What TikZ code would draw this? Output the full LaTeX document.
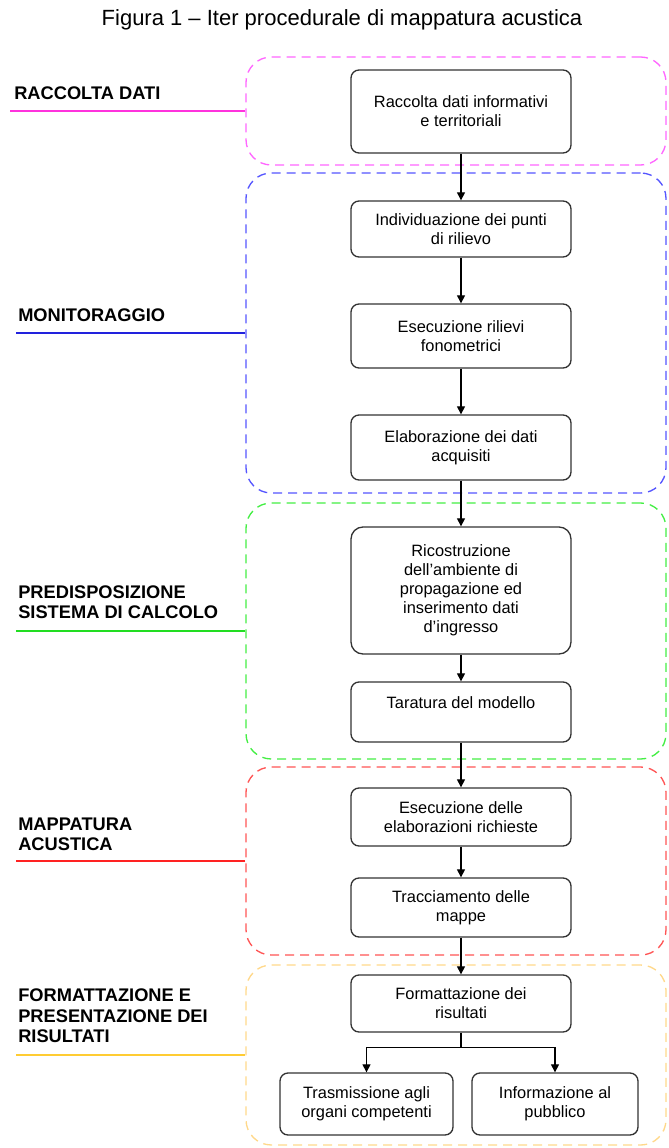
\documentclass[tikz,border=0pt]{standalone}
\usepackage{fontspec}
\setmainfont{Liberation Sans}
\usetikzlibrary{arrows.meta,calc}

\definecolor{pinkdash}{HTML}{FF66FF}
\definecolor{pinkline}{HTML}{FF33DD}
\definecolor{bluedash}{HTML}{5555FF}
\definecolor{blueline}{HTML}{2222DD}
\definecolor{greendash}{HTML}{44EE44}
\definecolor{greenline}{HTML}{22DD22}
\definecolor{reddash}{HTML}{FF5555}
\definecolor{redline}{HTML}{FF2222}
\definecolor{golddash}{HTML}{FFD88A}
\definecolor{goldline}{HTML}{FFCC33}
\definecolor{boxedge}{HTML}{333333}

\begin{document}
\begin{tikzpicture}[x=0.75pt,y=-0.75pt,
  phase/.style={draw=#1, dash pattern=on 6.75pt off 4.5pt, line width=1pt,
    rounded corners=19pt, minimum width=0.75*420pt, inner sep=0pt},
  tie/.style={draw=#1, line width=1.4pt},
  phasename/.style={font=\fontsize{13.7pt}{15.4pt}\selectfont\bfseries,
    align=left, anchor=south west, inner sep=0pt, text=black},
  stepbox/.style={draw=boxedge, line width=1pt, rounded corners=6pt, fill=white,
    minimum width=0.75*220pt, align=center, inner sep=2pt,
    font=\fontsize{12.3pt}{14.25pt}\selectfont},
  flow/.style={draw=black, line width=0.9pt, -{Triangle[length=6pt,width=6pt]}},
]
\useasboundingbox (0,0) rectangle (668,1148);

% title
\node[font=\fontsize{16.5pt}{19pt}\selectfont] (title) at (342,20)
  {Figura 1 -- Iter procedurale di mappatura acustica};

% phase frames
\node[phase=pinkdash,  minimum height=0.75*108pt] (g1) at (456,111)  {};
\node[phase=bluedash,  minimum height=0.75*320pt] (g2) at (456,333)  {};
\node[phase=greendash, minimum height=0.75*256pt] (g3) at (456,631)  {};
\node[phase=reddash,   minimum height=0.75*188pt] (g4) at (456,861)  {};
\node[phase=golddash,  minimum height=0.75*180pt] (g5) at (456,1055) {};

% phase names and their leader lines
\coordinate (l1) at (10,111);
\coordinate (l2) at (16,333);
\coordinate (l3) at (16,631);
\coordinate (l4) at (16,861);
\coordinate (l5) at (16,1055);
\draw[tie=pinkline]  (g1.west) -- (l1);
\draw[tie=blueline]  (g2.west) -- (l2);
\draw[tie=greenline] (g3.west) -- (l3);
\draw[tie=redline]   (g4.west) -- (l4);
\draw[tie=goldline]  (g5.west) -- (l5);

\node[phasename] (n1) at (14,100) {RACCOLTA DATI};
\node[phasename] (n2) at (18,322) {MONITORAGGIO};
\node[phasename] (n3) at (18,619) {PREDISPOSIZIONE\\SISTEMA DI CALCOLO};
\node[phasename] (n4) at (18,851) {MAPPATURA\\ACUSTICA};
\node[phasename] (n5) at (18,1043) {FORMATTAZIONE E\\PRESENTAZIONE DEI\\RISULTATI};

% process steps
\node[stepbox, minimum height=0.75*83pt] (b1) at (461,111.5)
  {Raccolta dati informativi\\e territoriali};
\node[stepbox, minimum height=0.75*56pt] (b2) at (461,229)
  {Individuazione dei punti\\di rilievo};
\node[stepbox, minimum height=0.75*64pt] (b3) at (461,336)
  {Esecuzione rilievi\\fonometrici};
\node[stepbox, minimum height=0.75*65pt] (b4) at (461,447.5)
  {Elaborazione dei dati\\acquisiti};
\node[stepbox, minimum height=0.75*127pt, rounded corners=9pt] (b5) at (461,590.5)
  {Ricostruzione\\dell'ambiente di\\propagazione ed\\inserimento dati\\d'ingresso};
\node[stepbox, minimum height=0.75*60pt] (b6) at (461,712)
  {Taratura del modello\\[0pt]\mbox{}};
\node[stepbox, minimum height=0.75*58pt] (b7) at (461,817)
  {Esecuzione delle\\elaborazioni richieste};
\node[stepbox, minimum height=0.75*59pt] (b8) at (461,907.5)
  {Tracciamento delle\\mappe};
\node[stepbox, minimum height=0.75*57pt] (b9) at (461,1003.5)
  {Formattazione dei\\risultati};
\node[stepbox, minimum height=0.75*62pt, minimum width=0.75*173pt] (b10) at (366.5,1104)
  {Trasmissione agli\\organi competenti};
\node[stepbox, minimum height=0.75*62pt, minimum width=0.75*166pt] (b11) at (555,1104)
  {Informazione al\\pubblico};

% flow
\draw[flow] (b1) -- (b2);
\draw[flow] (b2) -- (b3);
\draw[flow] (b3) -- (b4);
\draw[flow] (b4) -- (b5);
\draw[flow] (b5) -- (b6);
\draw[flow] (b6) -- (b7);
\draw[flow] (b7) -- (b8);
\draw[flow] (b8) -- (b9);
\coordinate (split) at ($(b9.south)+(0,15)$);
\draw[line width=0.9pt] (b9.south) -- (split);
\draw[flow] (split) -| (b10.north);
\draw[flow] (split) -| (b11.north);
\end{tikzpicture}
\end{document}
